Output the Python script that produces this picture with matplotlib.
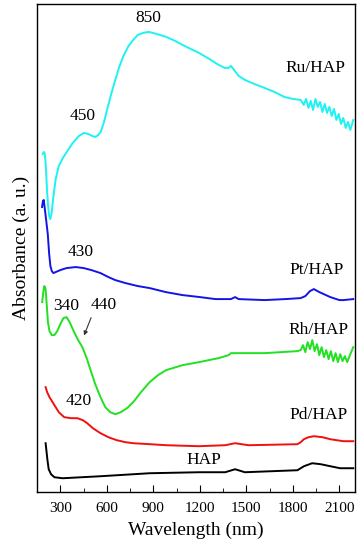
import numpy as np
from matplotlib import pyplot as plt

plt.rcParams['font.family'] = ['Liberation Serif', 'DejaVu Serif']

# spectra (absorbance in arbitrary, offset units)
ru_x = [186, 195, 200, 207, 213, 220, 228, 235, 243, 255, 270, 290, 320, 346, 380, 420,
        452, 480, 505, 525, 545, 560, 580, 601, 630, 654, 680, 707, 740, 770, 800, 834,
        870, 920, 982, 1040, 1088, 1140, 1194, 1260, 1321, 1360, 1385, 1400, 1415, 1450,
        1490, 1550, 1617, 1680, 1744, 1800, 1850, 1870, 1885, 1900, 1915, 1930, 1945,
        1960, 1975, 1990, 2005, 2020, 2035, 2050, 2065, 2080, 2095, 2110, 2125, 2140,
        2155, 2170, 2189]
ru_y = [338, 340, 338, 325, 305, 288, 276, 273, 278, 295, 313, 326, 335, 341, 349, 356,
        359, 358, 356, 355, 357, 360, 369, 382, 399, 412, 425, 436, 446, 452, 457, 459,
        460, 458, 455, 451, 447, 443, 439, 433, 427, 424, 424, 426, 423, 416,
        412, 408, 404, 400, 395, 393, 392, 387, 393, 384, 391, 382, 393,
        385, 390, 380, 388, 379, 385, 376, 383, 372, 378, 368, 374, 364,
        370, 362, 372]

pt_x = [182, 188, 193, 200, 210, 219, 228, 236, 245, 255, 270, 300, 340, 400, 450, 500,
        559, 610, 654, 720, 800, 876, 980, 1088, 1200, 1300, 1400, 1427, 1450, 1617,
        1750, 1850, 1880, 1910, 1935, 1970, 2041, 2100, 2125, 2189]
pt_y = [285, 291, 292, 283, 270, 258, 238, 226, 221, 219, 220, 222, 224, 225, 224, 222,
        219, 215, 212, 209, 206, 204, 200, 197, 195, 193, 193, 195, 193, 192,
        193, 194, 196, 201, 203, 200, 195, 192, 192, 193]

rh_x = [183, 190, 197, 205, 212, 220, 230, 245, 262, 280, 300, 320, 340, 360, 389, 415,
        442, 470, 495, 525, 559, 590, 622, 654, 690, 730, 770, 820, 876, 930, 982, 1088,
        1194, 1321, 1385, 1400, 1617, 1829, 1850, 1865, 1880, 1895, 1910, 1925, 1940,
        1955, 1970, 1985, 2000, 2015, 2030, 2045, 2060, 2075, 2090, 2105, 2120, 2135,
        2150, 2170, 2189]
rh_y = [190, 200, 206, 203, 188, 170, 161, 157, 157, 161, 168, 174, 175, 170, 160, 152,
        145, 134, 122, 108, 95, 85, 80, 78, 80, 84, 90, 100, 110, 117, 122, 127,
        130, 134, 137, 139, 139, 141, 142, 147, 140, 150, 143, 152, 141,
        148, 137, 145, 135, 142, 133, 141, 131, 139, 130, 138, 131, 136,
        130, 138, 145]

pd_x = [205, 215, 230, 262, 290, 325, 370, 410, 445, 473, 510, 559, 610, 664, 720, 770,
        880, 982, 1194, 1363, 1427, 1512, 1829, 1850, 1871, 1900, 1935, 1990, 2041,
        2125, 2189]
pd_y = [105, 100, 95, 87, 80, 75, 74, 74, 72, 69, 64, 59, 55, 52, 50, 49,
        48, 47, 46, 47, 49, 47, 48, 50, 53, 55, 56, 55, 53,
        51, 51]

hap_x = [205, 210, 217, 225, 240, 262, 315, 559, 876, 1194, 1363, 1427, 1490, 1829,
         1850, 1871, 1924, 1980, 2041, 2104, 2189]
hap_y = [49, 42, 32, 23, 18, 15, 14, 16, 19, 20, 20, 23, 20, 22,
         24, 26, 29, 28, 26, 24, 24]

fig, ax = plt.subplots(figsize=(3.6, 5.5), dpi=100)
fig.subplots_adjust(left=0.103, right=0.986, bottom=0.105, top=0.993)

ax.plot(ru_x, ru_y, color='#1ef2f2', lw=1.4)
ax.plot(pt_x, pt_y, color='#1414e6', lw=1.4)
ax.plot(rh_x, rh_y, color='#22e022', lw=1.4)
ax.plot(pd_x, pd_y, color='#f01010', lw=1.4)
ax.plot(hap_x, hap_y, color='black', lw=1.4)

fs = 12.5
ax.text(866, 474, '850', fontsize=fs, ha='center', va='center')
ax.text(442, 376, '450', fontsize=fs, ha='center', va='center')
ax.text(1945, 424, 'Ru/HAP', fontsize=fs, ha='center', va='center')
ax.text(431, 240, '430', fontsize=fs, ha='center', va='center')
ax.text(1956, 222, 'Pt/HAP', fontsize=fs, ha='center', va='center')
ax.text(340, 186, '340', fontsize=fs, ha='center', va='center')
ax.text(580, 187, '440', fontsize=fs, ha='center', va='center')
ax.text(1966, 162, 'Rh/HAP', fontsize=fs, ha='center', va='center')
ax.text(421, 91, '420', fontsize=fs, ha='center', va='center')
ax.text(1965, 77, 'Pd/HAP', fontsize=fs, ha='center', va='center')
ax.text(1226, 32, 'HAP', fontsize=fs, ha='center', va='center')
ax.annotate('', xy=(446, 154), xytext=(505, 177),
            arrowprops=dict(arrowstyle='-|>', color='#333333', lw=0.8,
                            mutation_scale=6))

ax.set_xlim(180, 2200)
ax.set_ylim(0, 488)
ax.set_xticks(np.arange(300, 2101, 300))
ax.set_xticks(np.arange(150, 2200, 150), minor=True)
ax.set_yticks([])
ax.tick_params(axis='x', which='major', direction='in', length=5, labelsize=11, pad=7)
ax.tick_params(axis='x', which='minor', direction='in', length=3)
ax.set_xlabel('Wavelength (nm)', fontsize=14, labelpad=5)
ax.set_ylabel('Absorbance (a. u.)', fontsize=14, labelpad=5)
for s in ax.spines.values():
    s.set_linewidth(1.0)

fig.savefig('out.png', dpi=100)
